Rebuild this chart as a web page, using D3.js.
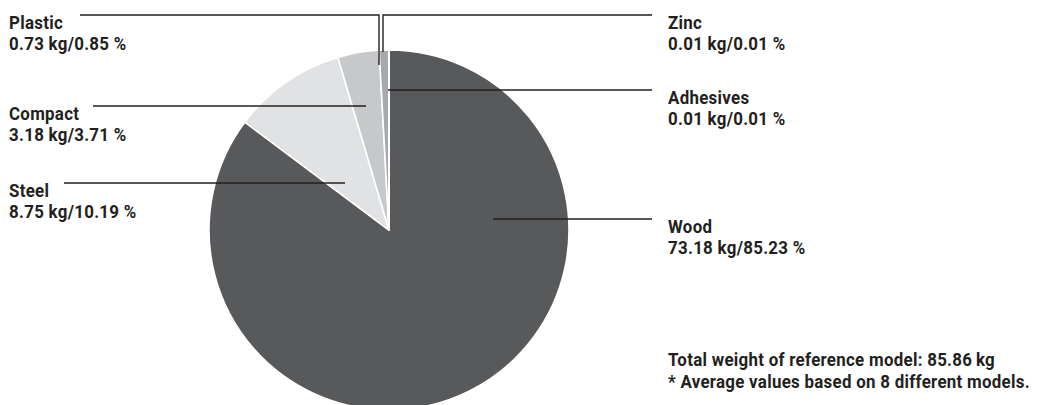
<!DOCTYPE html>
<html>
<head>
<meta charset="utf-8">
<script src="https://cdn.jsdelivr.net/npm/d3@7"></script>
<style>
  body { margin: 0; background: #fff; }
  svg text { font-family: Roboto, "DejaVu Sans Condensed", sans-serif; font-weight: bold; fill: #231f20; letter-spacing: 0.3px; }
</style>
</head>
<body>
<svg width="1038" height="405"></svg>
<script>
// data
var materials = ["Wood", "Steel", "Compact", "Plastic", "Adhesives", "Zinc"];
var weightsKg = [73.18, 8.75, 3.18, 0.73, 0.01, 0.01];
var percents  = [85.23, 10.19, 3.71, 0.85, 0.01, 0.01];
var colors    = ["#58595b", "#e1e2e3", "#c7c8ca", "#a7a9ac", "#d1d3d4", "#d1d3d4"];
var notes = ["Total weight of reference model: 85.86\u2009kg",
             "* Average values based on 8 different models."];

// label layout: line y, start x of the line, end x, tip y (for the elbow ones)
var layout = {
  Wood:      { side: "right", y: 219, x0: 493, x1: 652 },
  Steel:     { side: "left",  y: 183, x0: 64,  x1: 345 },
  Compact:   { side: "left",  y: 106, x0: 93,  x1: 366 },
  Plastic:   { side: "left",  y: 15,  x0: 80,  x1: 379, tipY: 65 },
  Adhesives: { side: "right", y: 90,  x0: 388, x1: 652 },
  Zinc:      { side: "right", y: 15,  x0: 383, x1: 652, tipY: 52 }
};

var svg = d3.select("svg"),
    cx = 389, cy = 230, radius = 180,
    fontSize = 18.5;

var data = materials.map(function(m, i) {
  return { name: m, kg: weightsKg[i], pct: percents[i], color: colors[i] };
});

var pie = d3.pie().sort(null).value(function(d) { return d.pct; });
var arc = d3.arc().innerRadius(0).outerRadius(radius);

var g = svg.append("g").attr("transform", "translate(" + cx + "," + cy + ")");
g.selectAll("path")
  .data(pie(data))
  .enter().append("path")
    .attr("d", arc)
    .style("fill", function(d) { return d.data.color; })
    .style("stroke", "#fff")
    .style("stroke-width", 1.6)
    .style("stroke-linejoin", "round");

// condensed look: squeeze the text horizontally so the footnote is as wide as in the reference
var probe = svg.append("text").style("font-size", fontSize + "px").text(notes[1]);
var sx = 362 / probe.node().getBBox().width;
probe.remove();

function label(x, y, str) {
  return svg.append("text")
    .attr("transform", "translate(" + x + "," + y + ") scale(" + sx + ",1)")
    .style("font-size", fontSize + "px")
    .text(str);
}

var fmt = d3.format(".2f");
data.forEach(function(d) {
  var L = layout[d.name];
  var pts;
  if (L.tipY != null) {
    pts = L.side === "left"
      ? [[L.x0, L.y], [L.x1, L.y], [L.x1, L.tipY]]
      : [[L.x0, L.tipY], [L.x0, L.y], [L.x1, L.y]];
  } else {
    pts = [[L.x0, L.y], [L.x1, L.y]];
  }
  svg.append("path")
    .attr("d", d3.line()(pts))
    .style("fill", "none")
    .style("stroke", "#231f20")
    .style("stroke-width", 1.4);

  var tx = L.side === "left" ? 9 : 668;
  label(tx, L.y + 14, d.name);
  label(tx, L.y + 35, fmt(d.kg) + " kg/" + fmt(d.pct) + " %");
});

notes.forEach(function(n, i) {
  label(668, 366 + i * 22, n);
});
</script>
</body>
</html>
